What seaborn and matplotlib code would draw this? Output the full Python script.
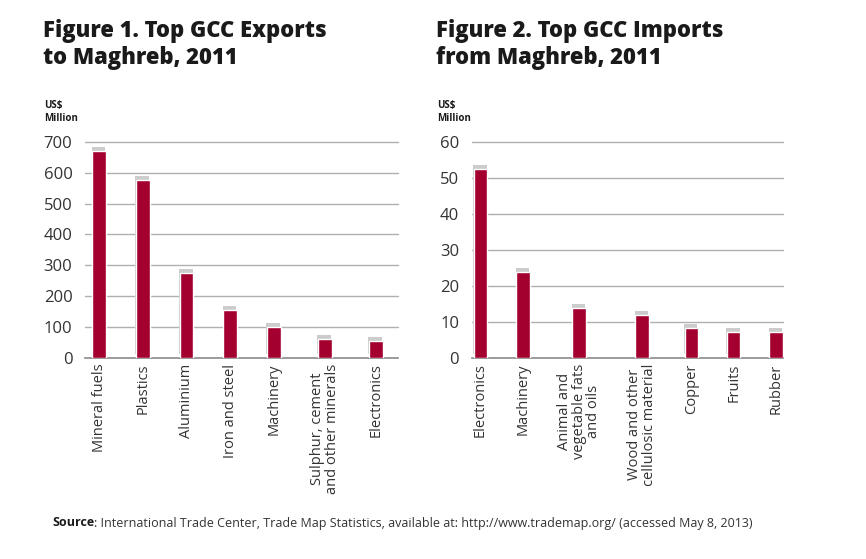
import matplotlib
matplotlib.use("Agg")
import matplotlib.pyplot as plt
import matplotlib.patheffects as pe
import seaborn as sns
import pandas as pd

# ---- data ----
exp_labels = ["Mineral fuels", "Plastics", "Aluminium", "Iron and steel", "Machinery",
              "Sulphur, cement\nand other minerals", "Electronics"]
exp_values = [670, 576, 275, 155, 100, 61, 55]
exp_yticks = [0, 100, 200, 300, 400, 500, 600, 700]

imp_labels = ["Electronics", "Machinery", "Animal and\nvegetable fats\nand oils",
              "Wood and other\ncellulosic material", "Copper", "Fruits", "Rubber"]
imp_values = [52.5, 23.9, 13.9, 11.9, 8.4, 7.3, 7.3]
imp_yticks = [0, 10, 20, 30, 40, 50, 60]

title1 = "Figure 1. Top GCC Exports\nto Maghreb, 2011"
title2 = "Figure 2. Top GCC Imports\nfrom Maghreb, 2011"
unit_label = "US$\nMillion"
source_bold = "Source"
source_rest = ": International Trade Center, Trade Map Statistics, available at: http://www.trademap.org/ (accessed May 8, 2013)"

BAR = "#a30030"
GRID = "#b0b0b0"
TXT = "#333333"
FONT = ["Open Sans", "DejaVu Sans"]

sns.set_theme(style="white")
plt.rcParams["font.family"] = FONT

W, H = 866, 559
fig = plt.figure(figsize=(W / 100, H / 100), dpi=100)


def positions(labels, gap=29, line_w=14):
    lines = [l.count("\n") + 1 for l in labels]
    pos = [0.0]
    for i in range(1, len(labels)):
        pos.append(pos[-1] + gap + line_w * (lines[i - 1] + lines[i]) / 2)
    return pos


def panel(rect_px, labels, values, yticks, title, title_xy, unit_xy, margins):
    x0, x1, ytop, ybot = rect_px
    ax = fig.add_axes([x0 / W, (H - ybot) / H, (x1 - x0) / W, (ybot - ytop) / H])
    pos = positions(labels)
    df = pd.DataFrame({"pos": pos, "value": values})
    min_gap = min(b - a for a, b in zip(pos[:-1], pos[1:]))
    sns.barplot(data=df, x="pos", y="value", native_scale=True, color=BAR,
                saturation=1, width=13.5 / min_gap, ax=ax, zorder=3)
    for p in ax.patches:
        p.set_path_effects([pe.SimplePatchShadow(offset=(-0.5, 3), shadow_rgbFace="#cccccc", alpha=1.0),
                            pe.Normal()])
    ax.set_xlim(pos[0] - margins[0], pos[-1] + margins[1])
    ax.set_ylim(yticks[0], yticks[-1])
    ax.set_yticks(yticks)
    ax.set_yticklabels([str(t) for t in yticks], fontsize=12, color=TXT)
    ax.set_xticks(pos)
    ax.set_xticklabels(labels, rotation=90, fontsize=10.5, color=TXT,
                       multialignment="center", va="top", ha="center", linespacing=0.95)
    ax.tick_params(axis="x", length=0, pad=4)
    ax.tick_params(axis="y", length=0, pad=9)
    ax.set_xlabel("")
    ax.set_ylabel("")
    for t in yticks[1:]:
        ax.axhline(t, color=GRID, lw=1.0, zorder=1, clip_on=False)
    for s in ["left", "right", "top"]:
        ax.spines[s].set_visible(False)
    ax.spines["bottom"].set_color("#8a8a8a")
    ax.spines["bottom"].set_linewidth(1.2)
    ax.set_facecolor("none")
    fig.text(title_xy[0] / W, 1 - title_xy[1] / H, title, fontsize=15.8, fontweight=800,
             color="#1a1a1a", va="top", ha="left", linespacing=1.15,
             family=["Open Sans", "DejaVu Sans"])
    fig.text(unit_xy[0] / W, 1 - unit_xy[1] / H, unit_label, fontsize=7, fontweight="bold",
             color="#1a1a1a", va="top", ha="left", linespacing=1.3)
    return ax


panel((85, 398, 141.7, 358), exp_labels, exp_values, exp_yticks, title1,
      (43, 19), (44, 100), (14, 22))
panel((471.7, 783, 141.7, 358), imp_labels, imp_values, imp_yticks, title2,
      (436, 19), (437, 100), (9, 7))

t = fig.text(52 / W, 1 - 523 / H, source_bold, fontsize=9, fontweight="bold",
             color="#1a1a1a", va="center", ha="left")
fig.canvas.draw()
bb = t.get_window_extent()
fig.text(bb.x1 / W, 1 - 523 / H, source_rest, fontsize=9, color=TXT, va="center", ha="left")

fig.savefig("out.png", dpi=100)
